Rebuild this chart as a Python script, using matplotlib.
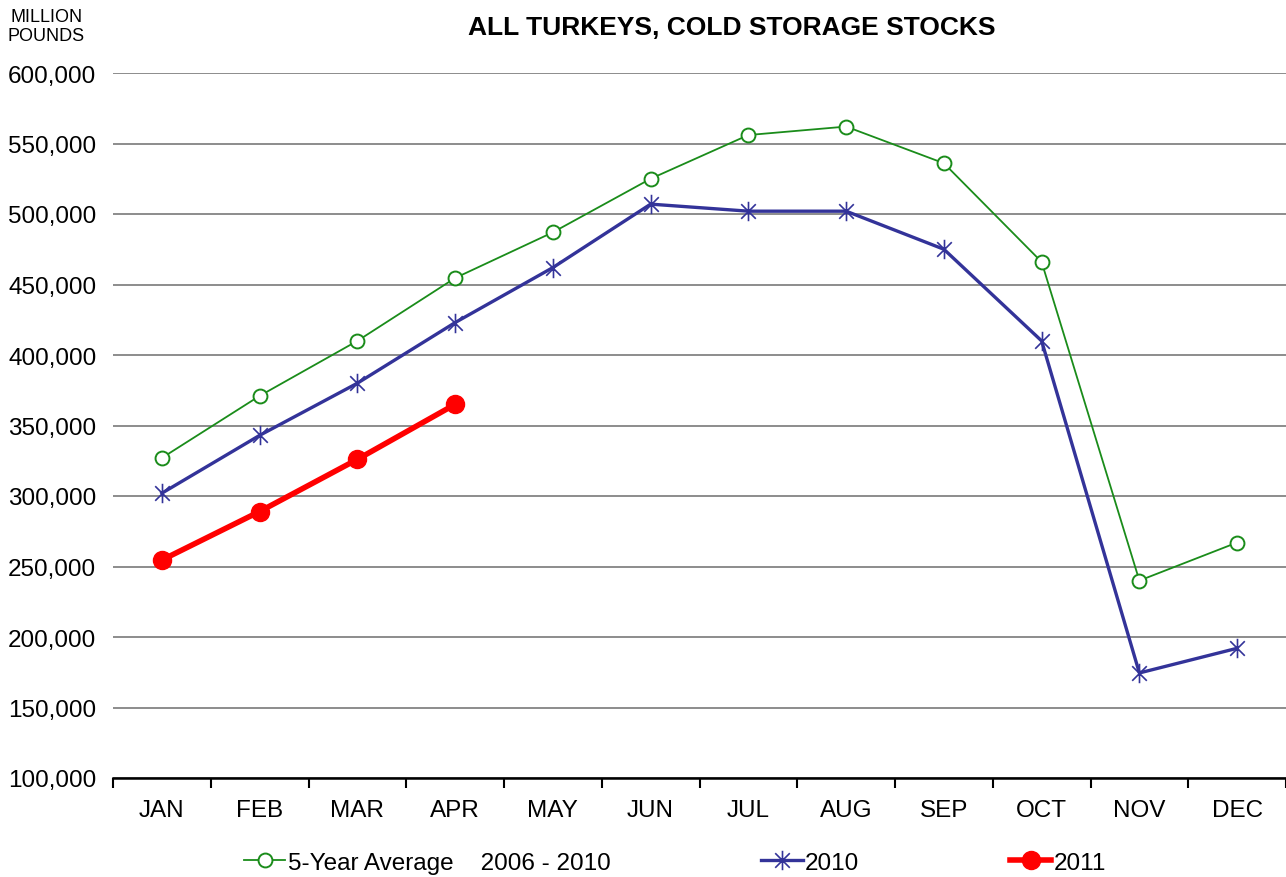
import matplotlib
matplotlib.use("Agg")
import matplotlib.pyplot as plt
from matplotlib.path import Path
from matplotlib import font_manager
import numpy as np

months = ["JAN", "FEB", "MAR", "APR", "MAY", "JUN", "JUL", "AUG", "SEP", "OCT", "NOV", "DEC"]
avg_5yr = [327000, 371000, 410000, 454600, 487000, 525000, 556000, 562000, 536000, 466000, 240000, 267000]
y2010 = [302000, 343000, 380000, 423000, 462000, 507000, 502000, 502000, 475000, 410000, 174500, 192000]
y2011 = [254600, 289000, 326000, 365000]
yticks = [100000, 150000, 200000, 250000, 300000, 350000, 400000, 450000, 500000, 550000, 600000]

names = {f.name for f in font_manager.fontManager.ttflist}
base_font = "Liberation Sans"
title_font = "Liberation Sans Narrow" if "Liberation Sans Narrow" in names else "Liberation Sans"
plt.rcParams["font.family"] = [base_font, "DejaVu Sans"]

# asterisk marker: vertical bar + X
ast = Path([(0, -1), (0, 1), (-0.75, -0.75), (0.75, 0.75), (-0.75, 0.75), (0.75, -0.75)],
           [Path.MOVETO, Path.LINETO, Path.MOVETO, Path.LINETO, Path.MOVETO, Path.LINETO])

fig = plt.figure(figsize=(12.86, 8.78), dpi=100)
ax = fig.add_axes([113 / 1286, 99 / 878, 1 - 113 / 1286, 705 / 878])

x = np.arange(len(months))
l1, = ax.plot(x, avg_5yr, color="#1a8c1a", lw=1.3, marker="o", ms=10, mfc="white",
              mec="#1a8c1a", mew=1.4, label="5-Year Average    2006 - 2010", zorder=3)
l2, = ax.plot(x, y2010, color="#333399", lw=2.4, marker=ast, ms=14, mfc="none",
              mec="#333399", mew=1.2, label="2010", zorder=4)
l3, = ax.plot(np.arange(len(y2011)), y2011, color="#ff0000", lw=4, marker="o", ms=13,
              mfc="#ff0000", mec="#ff0000", label="2011", zorder=5)

ax.set_xlim(-0.5, 11.5)
ax.set_ylim(100000, 600000)
ax.set_yticks(yticks)
ax.set_yticklabels([f"{v:,}" for v in yticks], fontsize=17.5)
ax.yaxis.grid(True, color="#8c8c8c", lw=1.4)
ax.set_axisbelow(True)
ax.tick_params(axis="y", length=0, pad=12)

ax.set_xticks(x)
ax.set_xticklabels(months, fontsize=17.5)
ax.set_xticks(np.arange(-0.5, 12, 1), minor=True)
ax.tick_params(axis="x", which="major", length=0, pad=15)
ax.tick_params(axis="x", which="minor", length=7, width=1.5, color="black")

for s in ["top", "right", "left"]:
    ax.spines[s].set_visible(False)
ax.spines["bottom"].set_color("black")
ax.spines["bottom"].set_linewidth(1.8)

fig.text(0.569, 0.968, "ALL TURKEYS, COLD STORAGE STOCKS", ha="center", va="center",
         fontsize=19, fontweight="bold", family=[title_font, "DejaVu Sans"])
fig.text(0.036, 0.969, "MILLION\nPOUNDS", ha="center", va="center", fontsize=13,
         linespacing=1.15)

fig.legend(handles=[l1, l2, l3], loc="center", bbox_to_anchor=(0.525, 0.016),
           ncol=3, frameon=False, fontsize=17.5, handlelength=1.7, handletextpad=0.1,
           columnspacing=6.2)

fig.savefig("out.png", dpi=100)
